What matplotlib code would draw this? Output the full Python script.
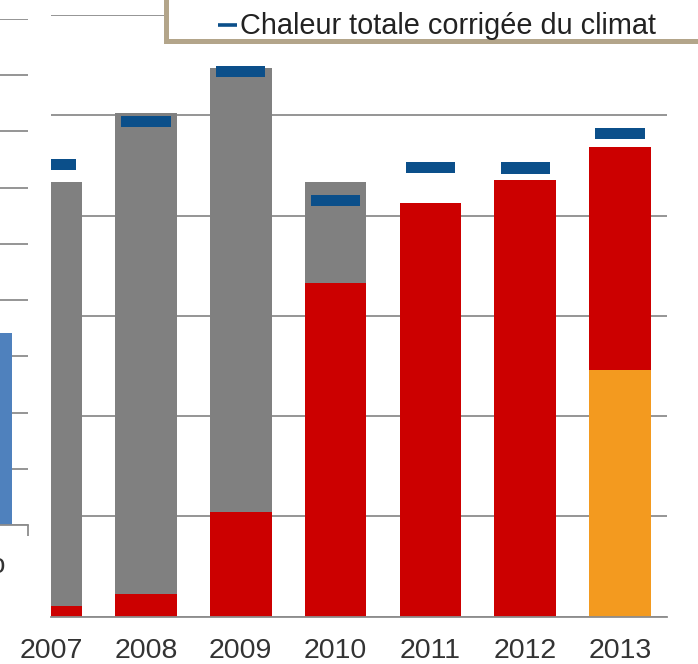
import matplotlib
matplotlib.use("Agg")
import matplotlib.pyplot as plt
from matplotlib.patches import Rectangle

# ---- data (y-axis unit = 20 per gridline) ----
years = ["2007", "2008", "2009", "2010", "2011", "2012", "2013"]
chaleur_orange = [0, 0, 0, 0, 0, 0, 49.2]
chaleur_rouge = [2.1, 4.5, 20.8, 66.5, 82.5, 87.1, 44.5]
chaleur_grise = [84.6, 95.9, 88.6, 20.2, 0, 0, 0]
chaleur_corrigee = [90.2, 98.8, 108.7, 83.0, 89.6, 89.5, 96.4]
legend_label = "Chaleur totale corrigée du climat"

# left (cropped) neighbouring chart
left_bar_value = [3.42]

plt.rcParams['font.family'] = ['Liberation Sans', 'DejaVu Sans']

W, H = 698, 664
fig = plt.figure(figsize=(W / 100, H / 100), dpi=100)

def px_axes(x0, y0, x1, y1, **kw):
    return fig.add_axes([x0 / W, 1 - y1 / H, (x1 - x0) / W, (y1 - y0) / H], **kw)

GRID = '#8c8c8c'
TEXT = '#333333'

# ---- main chart ----
ax = px_axes(51, 15, 667, 616.5)
x = list(range(len(years)))
bw = 0.65
ax.bar(x, chaleur_orange, width=bw, color='#f39a1f', zorder=2)
ax.bar(x, chaleur_rouge, width=bw, bottom=chaleur_orange, color='#cc0000', zorder=2)
bottom2 = [a + b for a, b in zip(chaleur_orange, chaleur_rouge)]
ax.bar(x, chaleur_grise, width=bw, bottom=bottom2, color='#808080', zorder=2)
mh = 2.3
ax.bar(x, [mh] * len(x), width=0.52, bottom=[v - mh / 2 for v in chaleur_corrigee],
       color='#0b4f8a', zorder=3)

ax.set_xlim(0.0105, 6.495)
ax.set_ylim(0, 120)
ax.set_yticks(range(0, 121, 20))
ax.yaxis.grid(True, color=GRID, linewidth=1.3, zorder=0)
ax.set_axisbelow(True)
for s in ['left', 'right', 'top']:
    ax.spines[s].set_visible(False)
ax.spines['bottom'].set_color(GRID)
ax.spines['bottom'].set_linewidth(1.3)
ax.tick_params(axis='y', length=0, labelleft=False)
ax.set_xticks(x)
ax.set_xticklabels(years, fontsize=20.5, color=TEXT)
ax.tick_params(axis='x', length=0, pad=15.5)

# ---- left neighbouring chart (cropped) ----
axl = px_axes(0, 19, 28, 525)
axl.bar([0], left_bar_value, width=0.86, color='#4f81bd', zorder=2)
axl.set_xlim(0, 1)
axl.set_ylim(0, 9)
axl.set_yticks(range(0, 10))
axl.yaxis.grid(True, color=GRID, linewidth=1.3, zorder=0)
axl.set_axisbelow(True)
for s in ['left', 'right', 'top']:
    axl.spines[s].set_visible(False)
axl.spines['bottom'].set_color(GRID)
axl.spines['bottom'].set_linewidth(1.3)
axl.tick_params(axis='y', length=0, labelleft=False)
axl.set_xticks([1])
axl.set_xticklabels([''])
axl.tick_params(axis='x', length=8, width=1.3, color=GRID, direction='out')
fig.text(5 / W, 1 - 566 / H, "o", ha='right', va='center', fontsize=20, color=TEXT)

# ---- legend box (cropped at top/right) ----
ov = fig.add_axes([0, 0, 1, 1], zorder=10)
ov.set_xlim(0, W)
ov.set_ylim(H, 0)
ov.axis('off')
ov.add_patch(Rectangle((165.5, -20), 600, 61, facecolor='white', edgecolor='#b3a58a',
                       linewidth=3.6, clip_on=False))
ov.plot([218, 237], [25, 25], color='#0b4f8a', linewidth=2.6, solid_capstyle='butt')
ov.text(240, 25.5, legend_label, fontsize=20.8, color='#222222', va='center', ha='left')

fig.savefig("out.png", dpi=100)
